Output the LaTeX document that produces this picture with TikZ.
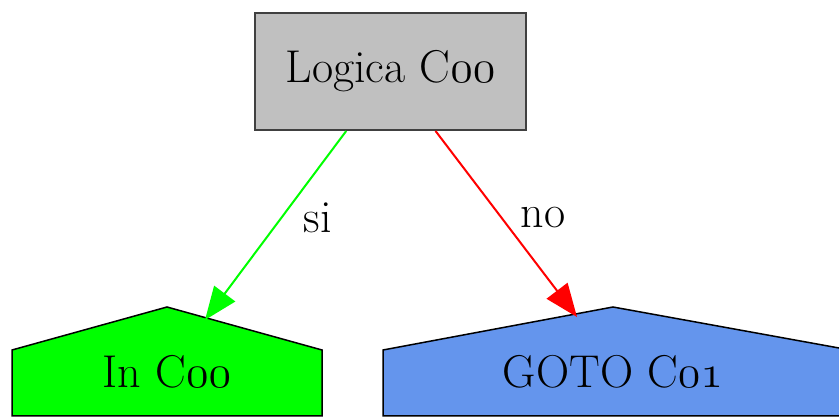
\RequirePackage{fix-cm}
\documentclass[tikz,border=0pt]{standalone}
\usepackage{tikz}
\usetikzlibrary{arrows.meta}
\definecolor{boxgray}{HTML}{C0C0C0}
\definecolor{boxline}{HTML}{404040}
\definecolor{cornflower}{HTML}{6495ED}
\newcommand{\osnum}[1]{{\fontsize{46}{50}\usefont{OML}{cmm}{m}{it}#1}}

\begin{document}
\begin{tikzpicture}[x=1pt, y=1pt,
	txt/.style={font=\fontsize{46}{50}\selectfont},
	edge/.style={line width=2pt, -{Triangle[length=33pt, width=26pt]}},
	house/.style={draw=black, line width=1.5pt}]
	% Paths, nodes and wires:
	\useasboundingbox (0, 0) rectangle (839, 417);
	\clip (0, 0) rectangle (839, 417);

	\filldraw[house, fill=green] (12, 1) -- (12, 67) -- (167, 110) -- (322, 67) -- (322, 1) -- cycle;
	\filldraw[house, fill=cornflower] (383, 1) -- (383, 67) -- (613, 110) -- (850, 67) -- (850, 1) -- cycle;
	\coordinate (R1) at (205, 97);
	\coordinate (R2) at (577, 100);

	\node[shape=rectangle, draw=boxline, fill=boxgray, line width=2pt, minimum width=271pt, minimum height=117pt](N1) at (390.5, 345.5){};
	\node[txt, anchor=center] at (N1.center){Logica C\osnum{00}};
	\node[txt](N2) at (167, 45){In C\osnum{00}};
	\node[txt](N3) at (613, 45){GOTO C\osnum{01}};

	\draw[edge, green] (N1) -- (R1);
	\draw[edge, red] (N1) -- (R2);
	\node[txt](N4) at (318, 199){si};
	\node[txt](N5) at (543, 199){no};
\end{tikzpicture}
\end{document}
